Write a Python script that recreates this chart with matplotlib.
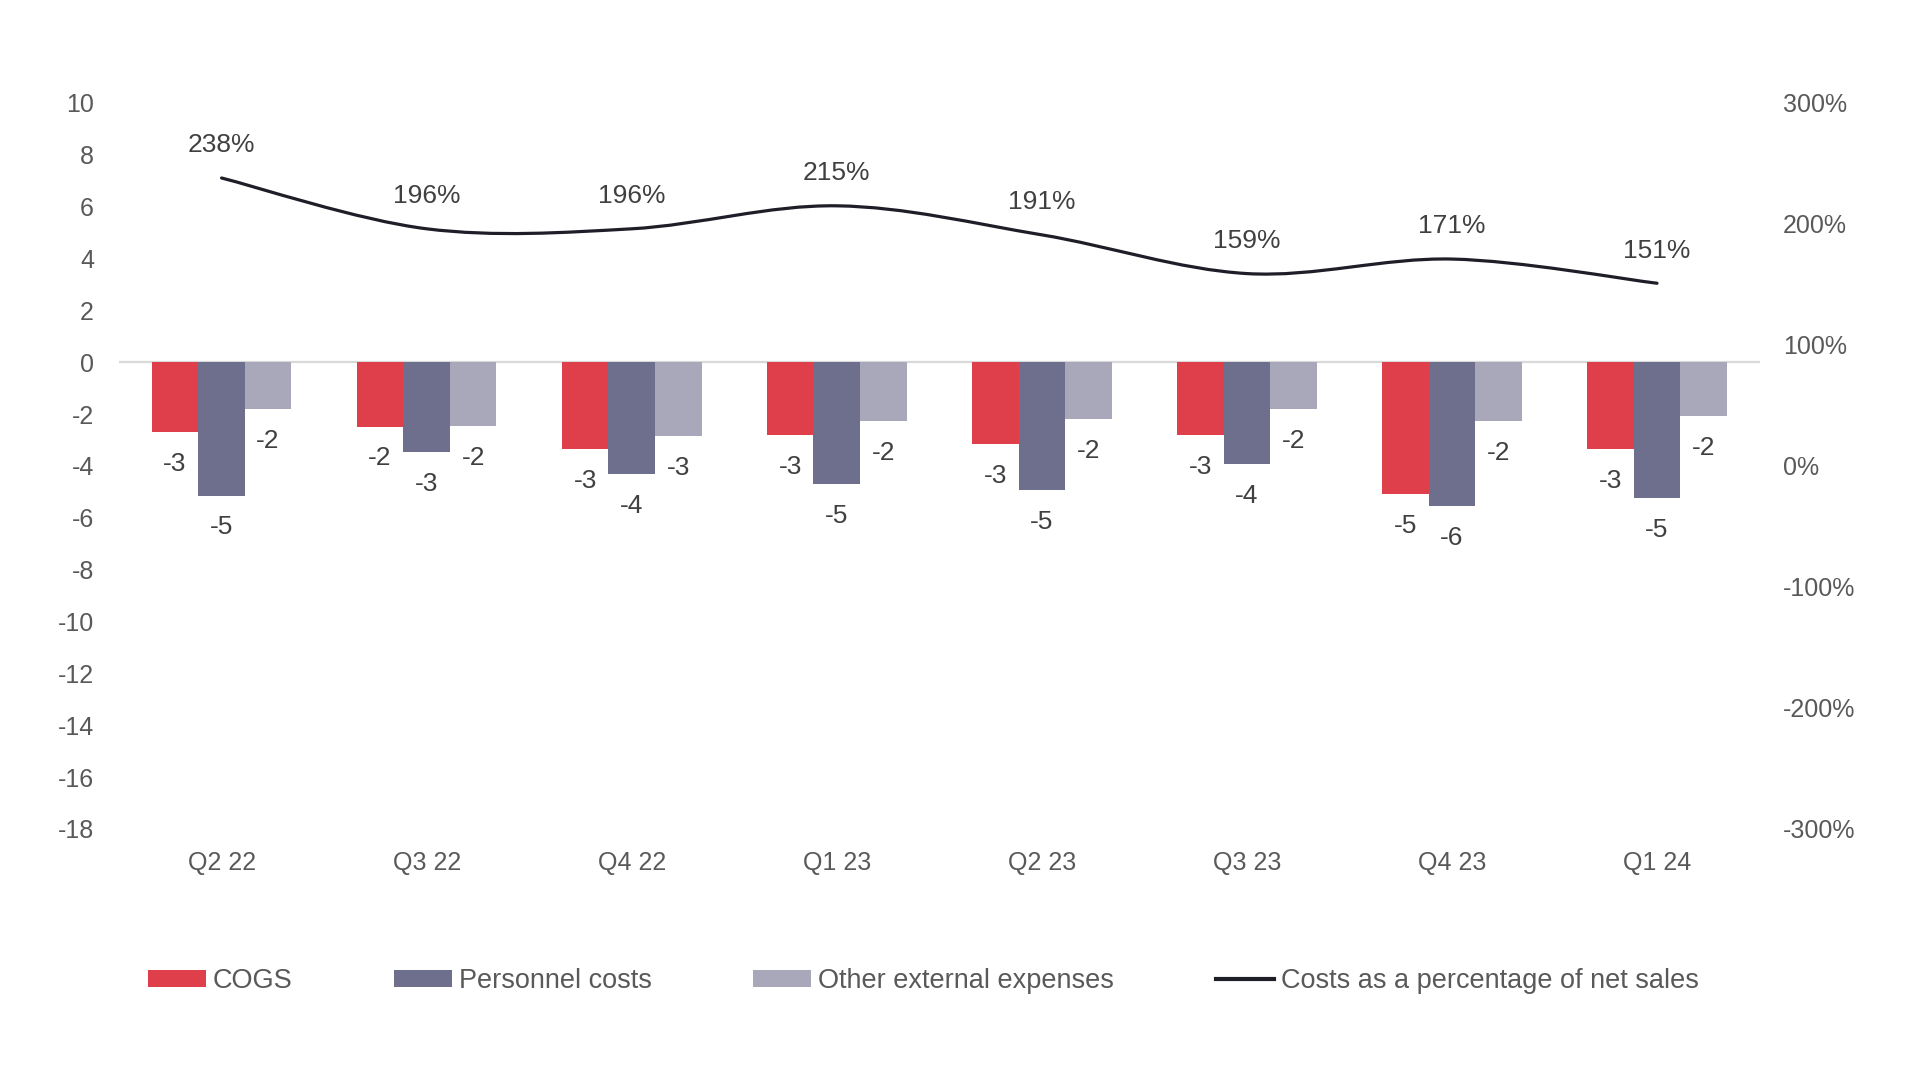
import matplotlib.pyplot as plt
import numpy as np
from matplotlib.path import Path
from matplotlib.patches import PathPatch
from matplotlib.lines import Line2D

plt.rcParams['font.family'] = ['Liberation Sans', 'DejaVu Sans']
plt.rcParams['axes.unicode_minus'] = False

quarters = ['Q2 22', 'Q3 22', 'Q4 22', 'Q1 23', 'Q2 23', 'Q3 23', 'Q4 23', 'Q1 24']
cogs = [-2.70, -2.48, -3.36, -2.79, -3.17, -2.79, -5.07, -3.34]
personnel = [-5.14, -3.48, -4.30, -4.68, -4.92, -3.93, -5.55, -5.23]
other = [-1.82, -2.46, -2.84, -2.27, -2.18, -1.80, -2.25, -2.08]
cost_pct = [238, 196, 196, 215, 191, 159, 171, 151]

left_ticks = list(range(-18, 11, 2))
right_ticks = [-300, -200, -100, 0, 100, 200, 300]

c_cogs = '#DE3F4A'
c_pers = '#6E6F8C'
c_other = '#A8A8BA'
c_line = '#1E1E28'
c_tick = '#595959'
c_label = '#404040'


def smooth_path(xs, ys):
    # Catmull-Rom style cubic Bezier through the points (like a smoothed line)
    pts = np.column_stack([xs, ys]).astype(float)
    n = len(pts)
    verts = [pts[0]]
    codes = [Path.MOVETO]
    for i in range(n - 1):
        p0 = pts[max(i - 1, 0)]
        p1 = pts[i]
        p2 = pts[i + 1]
        p3 = pts[min(i + 2, n - 1)]
        verts += [p1 + (p2 - p0) / 6, p2 - (p3 - p1) / 6, p2]
        codes += [Path.CURVE4] * 3
    return Path(verts, codes)


def main():
    fig = plt.figure(figsize=(19.23, 10.77), dpi=100)
    ax = fig.add_axes([0.0619, 0.2303, 0.8531, 0.6741])
    ax2 = ax.twinx()

    x = np.arange(len(quarters))
    w = 0.227
    series = [(cogs, c_cogs, 'COGS', -w),
              (personnel, c_pers, 'Personnel costs', 0),
              (other, c_other, 'Other external expenses', w)]
    handles = []
    for vals, col, name, off in series:
        bars = ax.bar(x + off, vals, w, color=col, label=name, zorder=2)
        handles.append(bars)
        for xi, v in zip(x + off, vals):
            ax.annotate(f'{round(v):d}', (xi, v), xytext=(0, -23),
                        textcoords='offset points', ha='center', va='center',
                        fontsize=19, color=c_label)

    ax.axhline(0, color='#D9D9D9', lw=1.6, zorder=1)
    ax.set_xlim(-0.5, len(quarters) - 0.5)
    ax.set_ylim(-18, 10)
    ax.set_yticks(left_ticks)
    ax.set_xticks(x)
    ax.set_xticklabels(quarters)
    ax.tick_params(axis='both', length=0, labelsize=18, labelcolor=c_tick)
    ax.tick_params(axis='y', pad=18)
    ax.tick_params(axis='x', pad=16)

    ax2.set_ylim(-300, 300)
    ax2.set_yticks(right_ticks)
    ax2.set_yticklabels([f'{t}%' for t in right_ticks])
    ax2.tick_params(axis='y', length=0, labelsize=18, labelcolor=c_tick, pad=17)

    for a in (ax, ax2):
        for s in a.spines.values():
            s.set_visible(False)

    line = PathPatch(smooth_path(x, cost_pct), fill=False, edgecolor=c_line,
                     lw=2.3, capstyle='round', transform=ax2.transData)
    ax2.add_patch(line)
    for xi, p in zip(x, cost_pct):
        ax2.annotate(f'{p}%', (xi, p), xytext=(0, 23.5), textcoords='offset points',
                     ha='center', va='center', fontsize=19, color=c_label)

    handles.append(Line2D([], [], color=c_line, lw=3))
    labels = ['COGS', 'Personnel costs', 'Other external expenses',
              'Costs as a percentage of net sales']
    fig.legend(handles, labels, loc='center', bbox_to_anchor=(0.48, 0.089),
               ncol=4, frameon=False, fontsize=19.5, labelcolor=c_tick,
               handlelength=2.15, handleheight=0.6, handletextpad=0.25,
               columnspacing=3.75)

    fig.savefig('out.png', dpi=100)


if __name__ == '__main__':
    main()
